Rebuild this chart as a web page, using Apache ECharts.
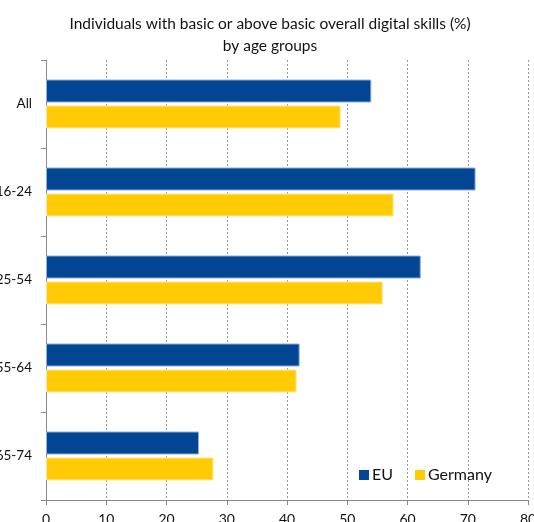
<!DOCTYPE html>
<html>
<head>
<meta charset="utf-8">
<script src="https://cdn.jsdelivr.net/npm/echarts@6/dist/echarts.min.js"></script>
<style>
  html, body { margin: 0; padding: 0; background: #fff; }
  #chart { width: 534px; height: 522px; }
</style>
</head>
<body>
<div id="chart"></div>
<script>
// age groups, top to bottom
const ageGroups = ['All', '16-24', '25-54', '55-64', '65-74'];
const euValues = [54.0, 71.3, 62.2, 42.1, 25.4];
const germanyValues = [48.9, 57.7, 55.9, 41.6, 27.8];
const xTicks = { min: 0, max: 80, interval: 10 };

const fontFam = 'Lato, "Open Sans", sans-serif';

const myChart = echarts.init(document.getElementById('chart'));
const option = {
  animation: false,
  title: {
    text: 'Individuals with basic or above basic overall digital skills (%)\nby age groups',
    left: 265,
    textAlign: 'center',
    top: 8,
    textStyle: { fontFamily: fontFam, fontSize: 15.5, fontWeight: 'normal', color: '#111', lineHeight: 22 }
  },
  legend: {
    data: ['EU', 'Germany'],
    left: 354,
    top: 462,
    itemWidth: 10,
    itemHeight: 10,
    itemGap: 22,
    icon: 'rect',
    itemStyle: { borderWidth: 0 },
    textStyle: { fontFamily: fontFam, fontSize: 16, color: '#111', padding: [0, 0, 0, -2] }
  },
  grid: { left: 46, right: 6, top: 60, bottom: 22, containLabel: false, outerBoundsMode: 'none' },
  xAxis: {
    type: 'value',
    min: xTicks.min,
    max: xTicks.max,
    interval: xTicks.interval,
    axisLine: { show: true, lineStyle: { color: '#888' } },
    axisTick: { show: true, length: 5, lineStyle: { color: '#888' } },
    axisLabel: { fontFamily: fontFam, fontSize: 14, color: '#111', margin: 12 },
    splitLine: { show: true, lineStyle: { color: '#999', type: [2, 2], width: 1 } }
  },
  yAxis: {
    type: 'category',
    data: ageGroups,
    inverse: true,
    axisLine: { show: true, lineStyle: { color: '#888' } },
    axisTick: { show: true, length: 5, lineStyle: { color: '#888' } },
    axisLabel: { fontFamily: fontFam, fontSize: 13.5, color: '#111', margin: 14 },
    splitLine: { show: false }
  },
  series: [
    {
      name: 'EU',
      type: 'bar',
      data: euValues,
      barWidth: 23,
      barGap: '13%',
      itemStyle: { color: '#034694', borderColor: '#8fb0d8', borderWidth: 1 }
    },
    {
      name: 'Germany',
      type: 'bar',
      data: germanyValues,
      barWidth: 23,
      barGap: '13%',
      itemStyle: { color: '#FFCB05', borderColor: '#fde89a', borderWidth: 1 }
    }
  ]
};
myChart.setOption(option);
</script>
</body>
</html>
